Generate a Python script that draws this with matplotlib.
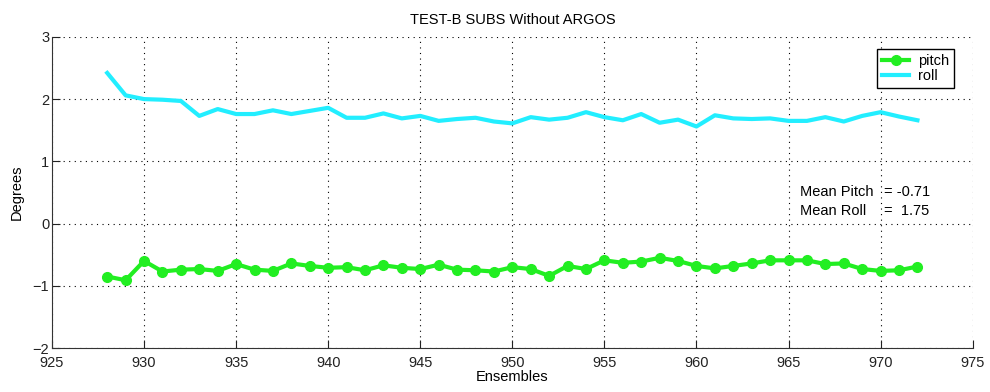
import numpy as np
import matplotlib.pyplot as plt

plt.rcParams['font.family'] = ['Liberation Sans', 'DejaVu Sans']

ensembles = list(range(928, 973))
pitch = [-0.85, -0.91, -0.60, -0.77, -0.74, -0.73, -0.76, -0.65, -0.74, -0.76,
         -0.64, -0.68, -0.71, -0.70, -0.75, -0.67, -0.71, -0.73, -0.66, -0.74,
         -0.75, -0.77, -0.70, -0.73, -0.84, -0.68, -0.73, -0.59, -0.63, -0.61,
         -0.55, -0.60, -0.68, -0.72, -0.68, -0.64, -0.59, -0.59, -0.59, -0.65,
         -0.64, -0.73, -0.76, -0.75, -0.69]
roll = [2.42, 2.06, 2.00, 1.99, 1.97, 1.73, 1.84, 1.76, 1.76, 1.82,
        1.76, 1.81, 1.86, 1.70, 1.70, 1.77, 1.69, 1.73, 1.65, 1.68,
        1.70, 1.64, 1.61, 1.71, 1.67, 1.70, 1.79, 1.71, 1.66, 1.76,
        1.62, 1.67, 1.56, 1.74, 1.69, 1.68, 1.69, 1.65, 1.65, 1.71,
        1.64, 1.73, 1.79, 1.72, 1.66]
xticks = list(range(925, 980, 5))
yticks = [-2, -1, 0, 1, 2, 3]

fig = plt.figure(figsize=(9.9, 3.92), dpi=100)
ax = fig.add_axes([0.0525, 0.112, 0.93, 0.794])

ax.plot(ensembles, pitch, color='#22ee22', lw=3, marker='o', ms=7,
        label='pitch')
ax.plot(ensembles, roll, color='#22eeff', lw=3, label='roll')

ax.set_xlim(925, 975)
ax.set_ylim(-2, 3)
ax.set_xticks(xticks)
ax.set_yticks(yticks)
ax.grid(True, color='black', linestyle=(0, (1, 4)), linewidth=0.8)
ax.spines['top'].set_visible(False)
ax.spines['right'].set_visible(False)
ax.spines['left'].set_color('#333333')
ax.spines['bottom'].set_color('#333333')
ax.tick_params(direction='in', length=6, labelsize=10.5, colors='#222222')
ax.tick_params(axis='x', pad=6)
ax.tick_params(axis='y', pad=2)
ax.set_xlabel('Ensembles', fontsize=10.5, labelpad=0)
ax.set_ylabel('Degrees', fontsize=10.5, labelpad=6)
ax.set_title('TEST-B SUBS Without ARGOS', fontsize=10.5, pad=9)

ax.text(965.6, 0.51, 'Mean Pitch', fontsize=10.5, va='center')
ax.text(970.2, 0.51, '= -0.71', fontsize=10.5, va='center')
ax.text(965.6, 0.21, 'Mean Roll', fontsize=10.5, va='center')
ax.text(970.2, 0.21, '=  1.75', fontsize=10.5, va='center')

leg = ax.legend(loc='upper right', bbox_to_anchor=(0.988, 0.985), fontsize=10.5,
                fancybox=False, edgecolor='black', framealpha=1,
                handlelength=1.9, borderpad=0.35, labelspacing=0.1,
                handletextpad=0.6)
leg.get_frame().set_linewidth(1.0)

fig.savefig('out.png', dpi=100)
